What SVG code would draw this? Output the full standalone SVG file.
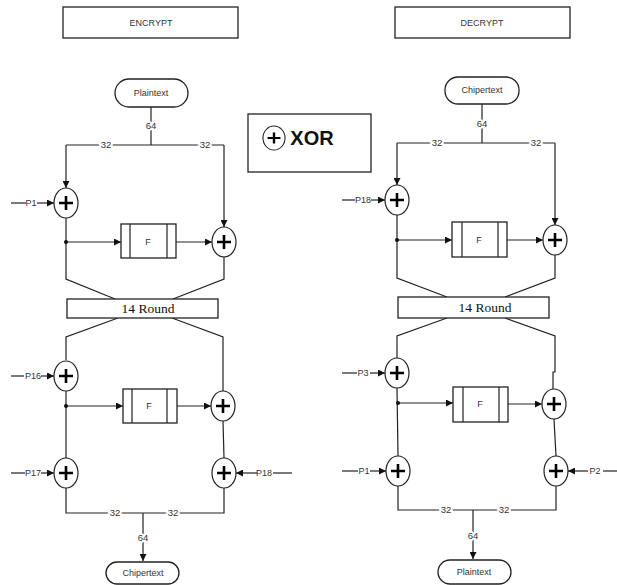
<svg xmlns="http://www.w3.org/2000/svg" xmlns:xlink="http://www.w3.org/1999/xlink" width="617" height="585" viewBox="0 0 617 585">
<style>
.bx{fill:#fff;stroke:#222;stroke-width:1.3}
.ln{fill:none;stroke:#222;stroke-width:1.2}
.ar{fill:none;stroke:#222;stroke-width:1.2;marker-end:url(#ah)}
.t{font-family:"Liberation Sans",Arial,sans-serif;font-size:9px;fill:#333;text-anchor:middle}
.lb{font-family:"Liberation Sans",Arial,sans-serif;font-size:9.5px;fill:#333;text-anchor:middle;paint-order:stroke;stroke:#fff;stroke-width:4px}
.r{font-family:"Liberation Serif","Times New Roman",serif;font-size:13.5px;fill:#111;text-anchor:middle}
.dot{fill:#111}
</style>
<defs>
<marker id="ah" viewBox="0 0 8 8" refX="8" refY="4" markerWidth="7" markerHeight="7" markerUnits="userSpaceOnUse" orient="auto">
<path d="M0,0 L8,4 L0,8 Z" fill="#111"/>
</marker>
<g id="xor">
<ellipse cx="0" cy="0" rx="12" ry="15" fill="#fff" stroke="#222" stroke-width="1.2"/>
<path d="M-7,0 H7 M0,-7 V7" stroke="#000" stroke-width="2.6" fill="none"/>
</g>
</defs>

<g id="connectors">
<!-- Encrypt -->
<path class="ln" d="M151,107 V145"/>
<path class="ln" d="M66,145 H224"/>
<path class="ar" d="M66,145 V188"/>
<path class="ar" d="M224,145 V227"/>
<path class="ln" d="M11,203 H26"/>
<path class="ar" d="M37,203 H54"/>
<path class="ln" d="M66,218 V279 L115,299"/>
<path class="ar" d="M66,242 H121"/>
<path class="ar" d="M176,242 H212"/>
<path class="ln" d="M224,257 V279 L173,299"/>
<path class="ln" d="M118,318 L66,337 V360"/>
<path class="ln" d="M172,318 L223,337 V391"/>
<path class="ln" d="M11,376 H24"/>
<path class="ar" d="M41,376 H54"/>
<path class="ln" d="M66,391 V458"/>
<path class="ar" d="M66,406 H123"/>
<path class="ar" d="M177,406 H211"/>
<path class="ln" d="M223,421 L224,458"/>
<path class="ln" d="M11,473 H25"/>
<path class="ar" d="M41,473 H54"/>
<path class="ar" d="M257,473 H236"/>
<path class="ln" d="M273,473 H292"/>
<path class="ln" d="M66,488 V513 H224 V488"/>
<path class="ar" d="M143,513 V561"/>
<!-- Decrypt -->
<path class="ln" d="M482,104 V143"/>
<path class="ln" d="M397,143 H555"/>
<path class="ar" d="M397,143 V185"/>
<path class="ar" d="M555,143 V225"/>
<path class="ln" d="M342,200 H355"/>
<path class="ar" d="M371,200 H385"/>
<path class="ln" d="M397,215 V278 L447,297"/>
<path class="ar" d="M397,240 H452"/>
<path class="ar" d="M507,240 H543"/>
<path class="ln" d="M555,255 V278 L505,297"/>
<path class="ln" d="M447,318 L397,336 V358"/>
<path class="ln" d="M505,318 L555,336 V372 H553 V389"/>
<path class="ln" d="M342,373 H357"/>
<path class="ar" d="M370,373 H385"/>
<path class="ln" d="M397,388 L398,456"/>
<path class="ar" d="M398,403 H453"/>
<path class="ar" d="M508,404 H542"/>
<path class="ln" d="M554,419 L556,456"/>
<path class="ln" d="M342,471 H358"/>
<path class="ar" d="M370,471 H386"/>
<path class="ar" d="M588,471 H568"/>
<path class="ln" d="M603,471 H617"/>
<path class="ln" d="M398,486 V510 H556 V486"/>
<path class="ar" d="M473,510 V559"/>
<!-- dots -->
<circle class="dot" cx="66" cy="242" r="2"/>
<circle class="dot" cx="66" cy="406" r="2"/>
<circle class="dot" cx="397" cy="240" r="2"/>
<circle class="dot" cx="398" cy="403" r="2"/>
<!-- labels -->
<text class="lb" x="151" y="129">64</text>
<text class="lb" x="106" y="148">32</text>
<text class="lb" x="205" y="148">32</text>
<text class="t" x="31" y="206">P1</text>
<text class="t" x="33" y="379">P16</text>
<text class="t" x="33" y="476">P17</text>
<text class="t" x="264" y="476">P18</text>
<text class="lb" x="115" y="516">32</text>
<text class="lb" x="173" y="516">32</text>
<text class="lb" x="143" y="541">64</text>
<text class="lb" x="482" y="127">64</text>
<text class="lb" x="437" y="146">32</text>
<text class="lb" x="536" y="146">32</text>
<text class="t" x="363" y="203">P18</text>
<text class="t" x="363" y="376">P3</text>
<text class="t" x="364" y="474">P1</text>
<text class="t" x="595" y="474">P2</text>
<text class="lb" x="446" y="513">32</text>
<text class="lb" x="504" y="513">32</text>
<text class="lb" x="473" y="539">64</text>
</g>

<g id="encrypt-title"><rect class="bx" x="63" y="7" width="175" height="31"/><text class="t" x="151" y="26">ENCRYPT</text></g>
<g id="decrypt-title"><rect class="bx" x="395" y="7" width="175" height="31"/><text class="t" x="482" y="26">DECRYPT</text></g>
<g id="legend"><rect class="bx" x="248" y="114" width="123" height="58"/><use xlink:href="#xor" transform="translate(274,138) scale(0.92,0.8)"/><text x="312" y="145" font-family="Liberation Sans,Arial,sans-serif" font-size="20" font-weight="bold" fill="#111" text-anchor="middle">XOR</text></g>

<g id="enc-plaintext"><rect class="bx" x="115" y="79" width="73" height="28" rx="14"/><text class="t" x="151" y="96">Plaintext</text></g>
<g id="enc-xor-p1"><use xlink:href="#xor" x="66" y="203"/></g>
<g id="enc-f1"><rect class="bx" x="121" y="224" width="55" height="34"/><path class="ln" d="M130,224 V258 M167,224 V258"/><text class="t" x="148" y="245">F</text></g>
<g id="enc-xor-r1"><use xlink:href="#xor" x="224" y="242"/></g>
<g id="enc-round"><rect class="bx" x="67" y="299" width="151" height="19"/><text class="r" x="148" y="313">14 Round</text></g>
<g id="enc-xor-p16"><use xlink:href="#xor" x="66" y="376"/></g>
<g id="enc-f2"><rect class="bx" x="123" y="389" width="54" height="34"/><path class="ln" d="M132,389 V423 M167,389 V423"/><text class="t" x="149" y="409">F</text></g>
<g id="enc-xor-r2"><use xlink:href="#xor" x="223" y="406"/></g>
<g id="enc-xor-p17"><use xlink:href="#xor" x="66" y="473"/></g>
<g id="enc-xor-p18"><use xlink:href="#xor" x="224" y="473"/></g>
<g id="enc-chipertext"><rect class="bx" x="106" y="562" width="73" height="22" rx="11"/><text class="t" x="143" y="576">Chipertext</text></g>

<g id="dec-chipertext"><rect class="bx" x="445" y="77" width="74" height="27" rx="13"/><text class="t" x="482" y="93">Chipertext</text></g>
<g id="dec-xor-p18"><use xlink:href="#xor" x="397" y="200"/></g>
<g id="dec-f1"><rect class="bx" x="452" y="222" width="55" height="35"/><path class="ln" d="M462,222 V257 M498,222 V257"/><text class="t" x="479" y="243">F</text></g>
<g id="dec-xor-r1"><use xlink:href="#xor" x="555" y="240"/></g>
<g id="dec-round"><rect class="bx" x="398" y="297" width="151" height="21"/><text class="r" x="485" y="312">14 Round</text></g>
<g id="dec-xor-p3"><use xlink:href="#xor" x="397" y="373"/></g>
<g id="dec-f2"><rect class="bx" x="453" y="387" width="55" height="35"/><path class="ln" d="M463,387 V422 M499,387 V422"/><text class="t" x="480" y="407">F</text></g>
<g id="dec-xor-r2"><use xlink:href="#xor" x="554" y="404"/></g>
<g id="dec-xor-p1"><use xlink:href="#xor" x="398" y="471"/></g>
<g id="dec-xor-p2"><use xlink:href="#xor" x="556" y="471"/></g>
<g id="dec-plaintext"><rect class="bx" x="438" y="560" width="73" height="24" rx="12"/><text class="t" x="474" y="575">Plaintext</text></g>
</svg>
